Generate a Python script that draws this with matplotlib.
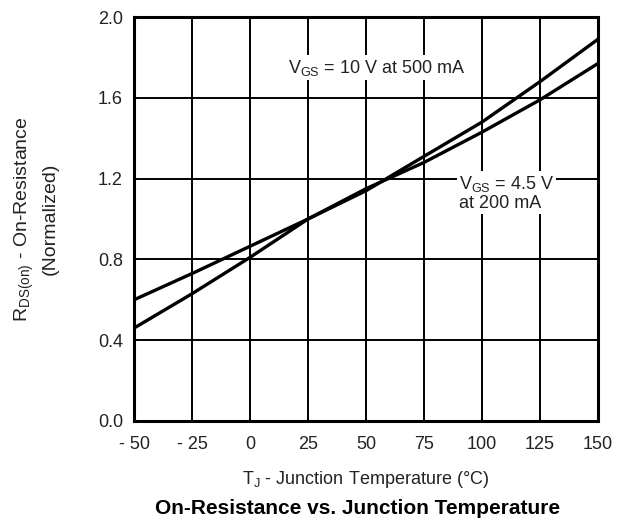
import matplotlib
matplotlib.use("Agg")
import matplotlib.pyplot as plt

plt.rcParams["font.family"] = ["Liberation Sans", "DejaVu Sans"]
plt.rcParams["mathtext.fontset"] = "custom"
plt.rcParams["mathtext.rm"] = "Liberation Sans"
plt.rcParams["mathtext.it"] = "Liberation Sans:italic"
plt.rcParams["mathtext.bf"] = "Liberation Sans:bold"

# Data
temp = [-50, -25, 0, 25, 50, 75, 100, 125, 150]
rds_10v = [0.46, 0.63, 0.81, 1.00, 1.14, 1.31, 1.48, 1.68, 1.89]
rds_4v5 = [0.60, 0.73, 0.865, 1.00, 1.15, 1.28, 1.43, 1.59, 1.77]
x_ticks = [-50, -25, 0, 25, 50, 75, 100, 125, 150]
x_labels = ["- 50", "- 25", "0", "25", "50", "75", "100", "125", "150"]
y_ticks = [0.0, 0.4, 0.8, 1.2, 1.6, 2.0]

fig = plt.figure(figsize=(6.31, 5.2), dpi=100)
ax = fig.add_axes([0.2124, 0.1904, 0.7353, 0.7769])

ax.plot(temp, rds_10v, color="black", lw=2.4, zorder=3)
ax.plot(temp, rds_4v5, color="black", lw=2.4, zorder=3)

ax.set_xlim(-50, 150)
ax.set_ylim(0, 2.0)
ax.set_xticks(x_ticks)
ax.set_xticklabels(x_labels)
ax.set_yticks(y_ticks)
ax.set_yticklabels([f"{v:.1f}" for v in y_ticks])
ax.tick_params(length=0, labelsize=13, colors="#222222")
ax.tick_params(axis="x", pad=11)
ax.tick_params(axis="y", pad=8)
ax.grid(True, color="black", lw=1.4, zorder=1)
for s in ax.spines.values():
    s.set_linewidth(2.2)

box = dict(facecolor="white", edgecolor="none", pad=1.5)
ax.text(54.4, 1.75, r"V$_{\mathrm{GS}}$ = 10 V at 500 mA", ha="center", va="center",
        fontsize=13, color="#222222", bbox=box, zorder=2)
ax.text(90, 1.13, "V$_{\\mathrm{GS}}$ = 4.5 V\nat 200 mA", ha="left", va="center",
        fontsize=13, color="#222222", bbox=box, zorder=2, linespacing=1.05)

ax.set_xlabel(r"T$_{\mathrm{J}}$ - Junction Temperature (°C)", fontsize=13,
              color="#222222", labelpad=11)
fig.text(36 / 631, 0.579, "R$_{\\mathrm{DS(on)}}$ - On-Resistance\n(Normalized)",
         rotation=90, ha="center", va="center", fontsize=14, color="#222222",
         linespacing=1.4)
fig.text(0.567, 0.023, "On-Resistance vs. Junction Temperature", ha="center",
         va="center", fontsize=15, fontweight="bold")

fig.savefig("out.png", dpi=100)
